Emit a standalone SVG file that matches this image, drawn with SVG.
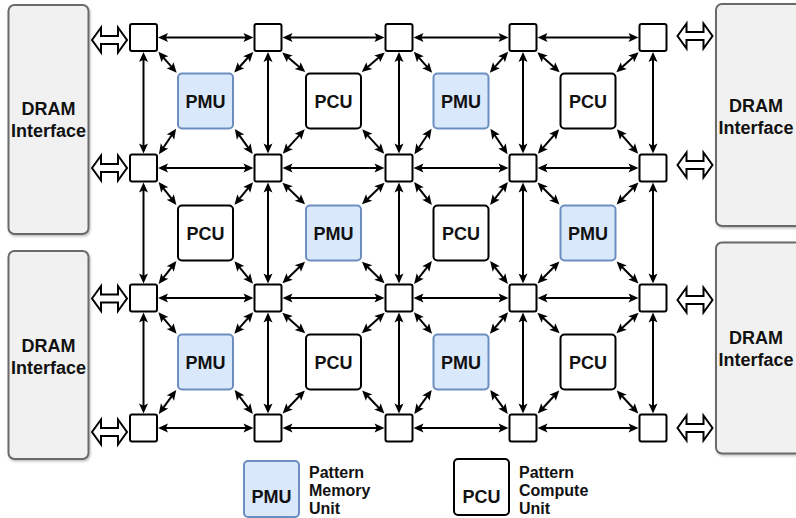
<svg xmlns="http://www.w3.org/2000/svg" width="796" height="518" viewBox="0 0 796 518">
  <defs>
    <style>
      .dram { fill: #f1f1f1; stroke: #6a6a6a; stroke-width: 2; }
      .sw { fill: #ffffff; stroke: #000000; stroke-width: 2; }
      .pmu { fill: #dae8fc; stroke: #6c8ebf; stroke-width: 2; }
      .pcu { fill: #ffffff; stroke: #000000; stroke-width: 2; }
      .lbl { font-family: "Liberation Sans", Arial, Helvetica, sans-serif; font-weight: bold; font-size: 18px; fill: #111111; text-anchor: middle; }
      .leg { font-family: "Liberation Sans", Arial, Helvetica, sans-serif; font-weight: bold; font-size: 16px; fill: #111111; }
      .link { stroke: #000000; stroke-width: 2; fill: none; marker-start: url(#tip); marker-end: url(#tip); }
      .port { fill: #ffffff; stroke: #000000; stroke-width: 2; stroke-linejoin: miter; }
    </style>
    <!-- filled arrowhead; tip sits 6px beyond the line end -->
    <marker id="tip" markerUnits="userSpaceOnUse" markerWidth="11" markerHeight="10" refX="4" refY="4.5" orient="auto-start-reverse" overflow="visible">
      <path d="M0,0 L10,4.5 L0,9 L2.2,4.5 Z" fill="#000000"/>
    </marker>
    <!-- hollow two-way arrow for the memory ports -->
    <path id="dbl" d="M-17.5,0 L-8.5,-12.5 L-8.5,-4 L8.5,-4 L8.5,-12.5 L17.5,0 L8.5,12.5 L8.5,4 L-8.5,4 L-8.5,12.5 Z"/>
    <filter id="shadow" x="-10%" y="-10%" width="130%" height="130%">
      <feDropShadow dx="1" dy="1.5" stdDeviation="1" flood-color="#000000" flood-opacity="0.25"/>
    </filter>
  </defs>

  <rect width="796" height="518" fill="#ffffff"/>

  <!-- DRAM interfaces -->
  <g id="dram-left-top">
    <rect class="dram" x="8.5" y="5" width="80" height="229" rx="6" filter="url(#shadow)"/>
    <text class="lbl" x="48.5" y="115">DRAM</text>
    <text class="lbl" x="48.5" y="137">Interface</text>
  </g>
  <g id="dram-left-bottom">
    <rect class="dram" x="8.5" y="251" width="80" height="208" rx="6" filter="url(#shadow)"/>
    <text class="lbl" x="48.5" y="352">DRAM</text>
    <text class="lbl" x="48.5" y="374">Interface</text>
  </g>
  <g id="dram-right-top">
    <rect class="dram" x="716" y="4" width="86" height="222" rx="6" filter="url(#shadow)"/>
    <text class="lbl" x="756" y="112">DRAM</text>
    <text class="lbl" x="756" y="134">Interface</text>
  </g>
  <g id="dram-right-bottom">
    <rect class="dram" x="716" y="242.5" width="86" height="211" rx="6" filter="url(#shadow)"/>
    <text class="lbl" x="756" y="344">DRAM</text>
    <text class="lbl" x="756" y="366">Interface</text>
  </g>

  <!-- memory ports -->
  <g id="ports">
    <use href="#dbl" class="port" x="109.5" y="40"/>
    <use href="#dbl" class="port" x="109.5" y="168"/>
    <use href="#dbl" class="port" x="109.5" y="298.5"/>
    <use href="#dbl" class="port" x="109.5" y="432"/>
    <use href="#dbl" class="port" x="695" y="36"/>
    <use href="#dbl" class="port" x="695" y="165"/>
    <use href="#dbl" class="port" x="695" y="300"/>
    <use href="#dbl" class="port" x="695" y="428"/>
  </g>

  <!-- interconnect -->
  <g id="connectors">
    <!-- horizontal switch links -->
    <line class="link" x1="164" y1="37.5" x2="247.5" y2="37.5"/>
    <line class="link" x1="288.5" y1="37.5" x2="378.5" y2="37.5"/>
    <line class="link" x1="419.5" y1="37.5" x2="502.5" y2="37.5"/>
    <line class="link" x1="543.5" y1="37.5" x2="632.5" y2="37.5"/>
    <line class="link" x1="164" y1="168" x2="247.5" y2="168"/>
    <line class="link" x1="288.5" y1="168" x2="378.5" y2="168"/>
    <line class="link" x1="419.5" y1="168" x2="502.5" y2="168"/>
    <line class="link" x1="543.5" y1="168" x2="632.5" y2="168"/>
    <line class="link" x1="164" y1="298" x2="247.5" y2="298"/>
    <line class="link" x1="288.5" y1="298" x2="378.5" y2="298"/>
    <line class="link" x1="419.5" y1="298" x2="502.5" y2="298"/>
    <line class="link" x1="543.5" y1="298" x2="632.5" y2="298"/>
    <line class="link" x1="164" y1="428" x2="247.5" y2="428"/>
    <line class="link" x1="288.5" y1="428" x2="378.5" y2="428"/>
    <line class="link" x1="419.5" y1="428" x2="502.5" y2="428"/>
    <line class="link" x1="543.5" y1="428" x2="632.5" y2="428"/>
    <!-- vertical switch links -->
    <line class="link" x1="143.5" y1="58" x2="143.5" y2="147.5"/>
    <line class="link" x1="143.5" y1="188.5" x2="143.5" y2="277.5"/>
    <line class="link" x1="143.5" y1="318.5" x2="143.5" y2="407.5"/>
    <line class="link" x1="268" y1="58" x2="268" y2="147.5"/>
    <line class="link" x1="268" y1="188.5" x2="268" y2="277.5"/>
    <line class="link" x1="268" y1="318.5" x2="268" y2="407.5"/>
    <line class="link" x1="399" y1="58" x2="399" y2="147.5"/>
    <line class="link" x1="399" y1="188.5" x2="399" y2="277.5"/>
    <line class="link" x1="399" y1="318.5" x2="399" y2="407.5"/>
    <line class="link" x1="523" y1="58" x2="523" y2="147.5"/>
    <line class="link" x1="523" y1="188.5" x2="523" y2="277.5"/>
    <line class="link" x1="523" y1="318.5" x2="523" y2="407.5"/>
    <line class="link" x1="653" y1="58" x2="653" y2="147.5"/>
    <line class="link" x1="653" y1="188.5" x2="653" y2="277.5"/>
    <line class="link" x1="653" y1="318.5" x2="653" y2="407.5"/>

    <!-- diagonal links, unit row 1 -->
    <line class="link" x1="162.3" y1="56.3" x2="172.7" y2="68.2"/>
    <line class="link" x1="249.2" y1="56.3" x2="238.3" y2="68.2"/>
    <line class="link" x1="162.3" y1="149.2" x2="172.7" y2="133.8"/>
    <line class="link" x1="249.2" y1="149.2" x2="238.3" y2="133.8"/>

    <line class="link" x1="286.8" y1="56.3" x2="300.7" y2="68.2"/>
    <line class="link" x1="380.2" y1="56.3" x2="366.3" y2="68.2"/>
    <line class="link" x1="286.8" y1="149.2" x2="300.7" y2="133.8"/>
    <line class="link" x1="380.2" y1="149.2" x2="366.3" y2="133.8"/>

    <line class="link" x1="417.8" y1="56.3" x2="428.2" y2="68.2"/>
    <line class="link" x1="504.2" y1="56.3" x2="493.8" y2="68.2"/>
    <line class="link" x1="417.8" y1="149.2" x2="428.2" y2="133.8"/>
    <line class="link" x1="504.2" y1="149.2" x2="493.8" y2="133.8"/>

    <line class="link" x1="541.8" y1="56.3" x2="555.2" y2="68.2"/>
    <line class="link" x1="634.2" y1="56.3" x2="620.8" y2="68.2"/>
    <line class="link" x1="541.8" y1="149.2" x2="555.2" y2="133.8"/>
    <line class="link" x1="634.2" y1="149.2" x2="620.8" y2="133.8"/>

    <!-- diagonal links, unit row 2 -->
    <line class="link" x1="162.3" y1="186.8" x2="172.7" y2="200.2"/>
    <line class="link" x1="249.2" y1="186.8" x2="238.3" y2="200.2"/>
    <line class="link" x1="162.3" y1="279.2" x2="172.7" y2="265.8"/>
    <line class="link" x1="249.2" y1="279.2" x2="238.3" y2="265.8"/>

    <line class="link" x1="286.8" y1="186.8" x2="300.7" y2="200.2"/>
    <line class="link" x1="380.2" y1="186.8" x2="366.3" y2="200.2"/>
    <line class="link" x1="286.8" y1="279.2" x2="300.7" y2="265.8"/>
    <line class="link" x1="380.2" y1="279.2" x2="366.3" y2="265.8"/>

    <line class="link" x1="417.8" y1="186.8" x2="428.2" y2="200.2"/>
    <line class="link" x1="504.2" y1="186.8" x2="493.8" y2="200.2"/>
    <line class="link" x1="417.8" y1="279.2" x2="428.2" y2="265.8"/>
    <line class="link" x1="504.2" y1="279.2" x2="493.8" y2="265.8"/>

    <line class="link" x1="541.8" y1="186.8" x2="555.2" y2="200.2"/>
    <line class="link" x1="634.2" y1="186.8" x2="620.8" y2="200.2"/>
    <line class="link" x1="541.8" y1="279.2" x2="555.2" y2="265.8"/>
    <line class="link" x1="634.2" y1="279.2" x2="620.8" y2="265.8"/>

    <!-- diagonal links, unit row 3 -->
    <line class="link" x1="162.3" y1="316.8" x2="172.7" y2="329.2"/>
    <line class="link" x1="249.2" y1="316.8" x2="238.3" y2="329.2"/>
    <line class="link" x1="162.3" y1="409.2" x2="172.7" y2="394.8"/>
    <line class="link" x1="249.2" y1="409.2" x2="238.3" y2="394.8"/>

    <line class="link" x1="286.8" y1="316.8" x2="300.7" y2="329.2"/>
    <line class="link" x1="380.2" y1="316.8" x2="366.3" y2="329.2"/>
    <line class="link" x1="286.8" y1="409.2" x2="300.7" y2="394.8"/>
    <line class="link" x1="380.2" y1="409.2" x2="366.3" y2="394.8"/>

    <line class="link" x1="417.8" y1="316.8" x2="428.2" y2="329.2"/>
    <line class="link" x1="504.2" y1="316.8" x2="493.8" y2="329.2"/>
    <line class="link" x1="417.8" y1="409.2" x2="428.2" y2="394.8"/>
    <line class="link" x1="504.2" y1="409.2" x2="493.8" y2="394.8"/>

    <line class="link" x1="541.8" y1="316.8" x2="555.2" y2="329.2"/>
    <line class="link" x1="634.2" y1="316.8" x2="620.8" y2="329.2"/>
    <line class="link" x1="541.8" y1="409.2" x2="555.2" y2="394.8"/>
    <line class="link" x1="634.2" y1="409.2" x2="620.8" y2="394.8"/>
  </g>

  <!-- switches -->
  <g id="switches">
    <g id="sw-0-0"><rect class="sw" x="130" y="24" width="27" height="27" rx="2"/></g>
    <g id="sw-1-0"><rect class="sw" x="254.5" y="24" width="27" height="27" rx="2"/></g>
    <g id="sw-2-0"><rect class="sw" x="385.5" y="24" width="27" height="27" rx="2"/></g>
    <g id="sw-3-0"><rect class="sw" x="509.5" y="24" width="27" height="27" rx="2"/></g>
    <g id="sw-4-0"><rect class="sw" x="639.5" y="24" width="27" height="27" rx="2"/></g>
    <g id="sw-0-1"><rect class="sw" x="130" y="154.5" width="27" height="27" rx="2"/></g>
    <g id="sw-1-1"><rect class="sw" x="254.5" y="154.5" width="27" height="27" rx="2"/></g>
    <g id="sw-2-1"><rect class="sw" x="385.5" y="154.5" width="27" height="27" rx="2"/></g>
    <g id="sw-3-1"><rect class="sw" x="509.5" y="154.5" width="27" height="27" rx="2"/></g>
    <g id="sw-4-1"><rect class="sw" x="639.5" y="154.5" width="27" height="27" rx="2"/></g>
    <g id="sw-0-2"><rect class="sw" x="130" y="284.5" width="27" height="27" rx="2"/></g>
    <g id="sw-1-2"><rect class="sw" x="254.5" y="284.5" width="27" height="27" rx="2"/></g>
    <g id="sw-2-2"><rect class="sw" x="385.5" y="284.5" width="27" height="27" rx="2"/></g>
    <g id="sw-3-2"><rect class="sw" x="509.5" y="284.5" width="27" height="27" rx="2"/></g>
    <g id="sw-4-2"><rect class="sw" x="639.5" y="284.5" width="27" height="27" rx="2"/></g>
    <g id="sw-0-3"><rect class="sw" x="130" y="414.5" width="27" height="27" rx="2"/></g>
    <g id="sw-1-3"><rect class="sw" x="254.5" y="414.5" width="27" height="27" rx="2"/></g>
    <g id="sw-2-3"><rect class="sw" x="385.5" y="414.5" width="27" height="27" rx="2"/></g>
    <g id="sw-3-3"><rect class="sw" x="509.5" y="414.5" width="27" height="27" rx="2"/></g>
    <g id="sw-4-3"><rect class="sw" x="639.5" y="414.5" width="27" height="27" rx="2"/></g>
  </g>

  <!-- compute and memory units -->
  <g id="pmu-0-0"><rect class="pmu" x="178" y="73.5" width="55" height="55" rx="4"/><text class="lbl" x="205.5" y="107.5">PMU</text></g>
  <g id="pcu-1-0"><rect class="pcu" x="306" y="73.5" width="55" height="55" rx="4"/><text class="lbl" x="333.5" y="107.5">PCU</text></g>
  <g id="pmu-2-0"><rect class="pmu" x="433.5" y="73.5" width="55" height="55" rx="4"/><text class="lbl" x="461" y="107.5">PMU</text></g>
  <g id="pcu-3-0"><rect class="pcu" x="560.5" y="73.5" width="55" height="55" rx="4"/><text class="lbl" x="588" y="107.5">PCU</text></g>

  <g id="pcu-0-1"><rect class="pcu" x="178" y="205.5" width="55" height="55" rx="4"/><text class="lbl" x="205.5" y="239.5">PCU</text></g>
  <g id="pmu-1-1"><rect class="pmu" x="306" y="205.5" width="55" height="55" rx="4"/><text class="lbl" x="333.5" y="239.5">PMU</text></g>
  <g id="pcu-2-1"><rect class="pcu" x="433.5" y="205.5" width="55" height="55" rx="4"/><text class="lbl" x="461" y="239.5">PCU</text></g>
  <g id="pmu-3-1"><rect class="pmu" x="560.5" y="205.5" width="55" height="55" rx="4"/><text class="lbl" x="588" y="239.5">PMU</text></g>

  <g id="pmu-0-2"><rect class="pmu" x="178" y="334.5" width="55" height="55" rx="4"/><text class="lbl" x="205.5" y="368.5">PMU</text></g>
  <g id="pcu-1-2"><rect class="pcu" x="306" y="334.5" width="55" height="55" rx="4"/><text class="lbl" x="333.5" y="368.5">PCU</text></g>
  <g id="pmu-2-2"><rect class="pmu" x="433.5" y="334.5" width="55" height="55" rx="4"/><text class="lbl" x="461" y="368.5">PMU</text></g>
  <g id="pcu-3-2"><rect class="pcu" x="560.5" y="334.5" width="55" height="55" rx="4"/><text class="lbl" x="588" y="368.5">PCU</text></g>

  <!-- legend -->
  <g id="legend-pmu">
    <rect class="pmu" x="244" y="461" width="55" height="56" rx="4"/>
    <text class="lbl" x="271.5" y="503">PMU</text>
    <text class="leg" x="309" y="478">Pattern</text>
    <text class="leg" x="309" y="496">Memory</text>
    <text class="leg" x="309" y="514">Unit</text>
  </g>
  <g id="legend-pcu">
    <rect class="pcu" x="454" y="459" width="55" height="56" rx="4"/>
    <text class="lbl" x="481.5" y="502.5">PCU</text>
    <text class="leg" x="519" y="478">Pattern</text>
    <text class="leg" x="519" y="496">Compute</text>
    <text class="leg" x="519" y="514">Unit</text>
  </g>
</svg>
